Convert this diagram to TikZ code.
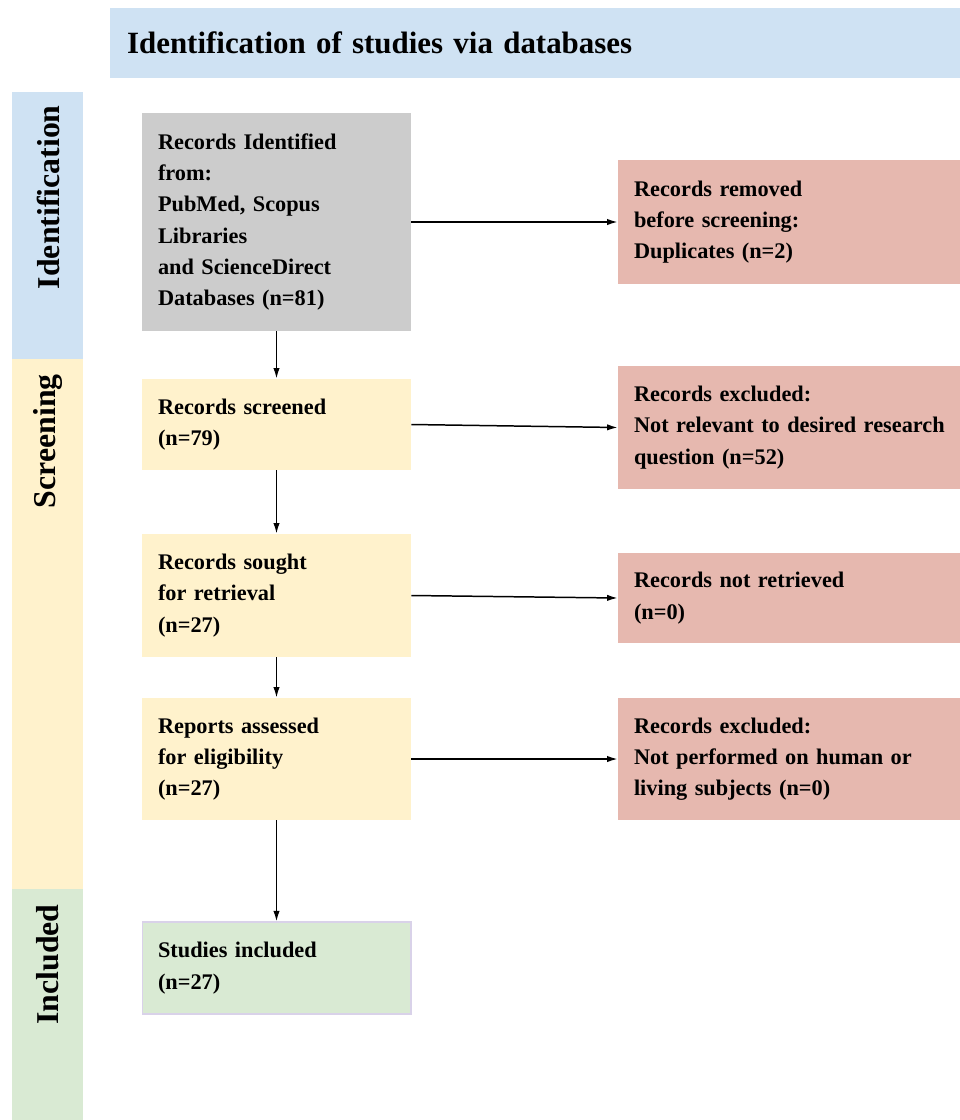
\documentclass[tikz,border=0pt]{standalone}
\usepackage{fontspec}
\setmainfont{Liberation Serif}
\usetikzlibrary{arrows.meta}
\definecolor{hdrblue}{HTML}{CFE2F3}
\definecolor{bandyellow}{HTML}{FFF2CC}
\definecolor{bandgreen}{HTML}{D9EAD3}
\definecolor{idgray}{HTML}{CCCCCC}
\definecolor{exclred}{HTML}{E6B8AF}
\definecolor{lavender}{HTML}{D9D2E9}
\begin{document}
\begin{tikzpicture}[x=0.02cm, y=-0.02cm,
    box/.style={rectangle, minimum width=5.38cm, text width=4.74cm, inner xsep=0.32cm, inner ysep=0pt, align=left, font=\fontsize{12.7}{17.8}\selectfont\bfseries},
    sidebox/.style={box, fill=exclred, minimum width=6.84cm, text width=6.2cm, inner xsep=0.32cm},
    band/.style={rotate=90, anchor=east, inner sep=0pt, font=\fontsize{18.1}{20}\selectfont\bfseries},
    arrow/.style={-{Latex[length=6pt,width=3.6pt]}, line width=0.85pt}
]
\useasboundingbox (0,0) rectangle (960,1120);

\node[rectangle, fill=hdrblue, minimum width=17cm, minimum height=1.4cm, text width=16.32cm, inner xsep=0.34cm, align=left, font=\fontsize{17.6}{20}\selectfont\bfseries] (hdr) at (535,43) {Identification of studies via databases};

\fill[hdrblue] (12,92) rectangle (83,359);
\fill[bandyellow] (12,359) rectangle (83,889);
\fill[bandgreen] (12,889) rectangle (83,1120);
\node[band] (lid) at (48,105) {Identification};
\node[band] (lscr) at (48,374) {Screening};
\node[band] (linc) at (48,904) {Included};

\node[box, fill=idgray, minimum height=4.36cm] (ident) at (276.5,222) {Records Identified\\from:\\PubMed, Scopus\\Libraries\\and ScienceDirect\\Databases (n=81)};
\node[sidebox, minimum height=2.48cm] (removed) at (789,222) {Records removed\\before screening:\\Duplicates (n=2)};

\node[box, fill=bandyellow, minimum height=1.82cm] (screened) at (276.5,424.5) {Records screened\\(n=79)};
\node[sidebox, minimum height=2.46cm] (excl) at (789,427.5) {Records excluded:\\\mbox{Not relevant to desired research}\\question (n=52)};

\node[box, fill=bandyellow, minimum height=2.46cm] (sought) at (276.5,595.5) {Records sought\\for retrieval\\(n=27)};
\node[sidebox, minimum height=1.8cm] (notret) at (789,598) {Records not retrieved\\(n=0)};

\node[box, fill=bandyellow, minimum height=2.44cm] (assessed) at (276.5,759) {Reports assessed\\for eligibility\\(n=27)};
\node[sidebox, minimum height=2.44cm] (exclhum) at (789,759) {Records excluded:\\Not performed on human or\\living subjects (n=0)};

\node[box, fill=bandgreen, draw=lavender, line width=0.6pt, minimum height=1.84cm] (incl) at (276.5,968) {Studies included\\(n=27)};

\draw[arrow] (ident) -- (removed);
\draw[arrow] (screened.east) -- (excl.west);
\draw[arrow] (sought.east) -- (notret.west);
\draw[arrow] (assessed) -- (exclhum);
\draw[arrow] (ident) -- (screened);
\draw[arrow] (screened) -- (sought);
\draw[arrow] (sought) -- (assessed);
\draw[arrow] (assessed) -- (incl);
\end{tikzpicture}
\end{document}
